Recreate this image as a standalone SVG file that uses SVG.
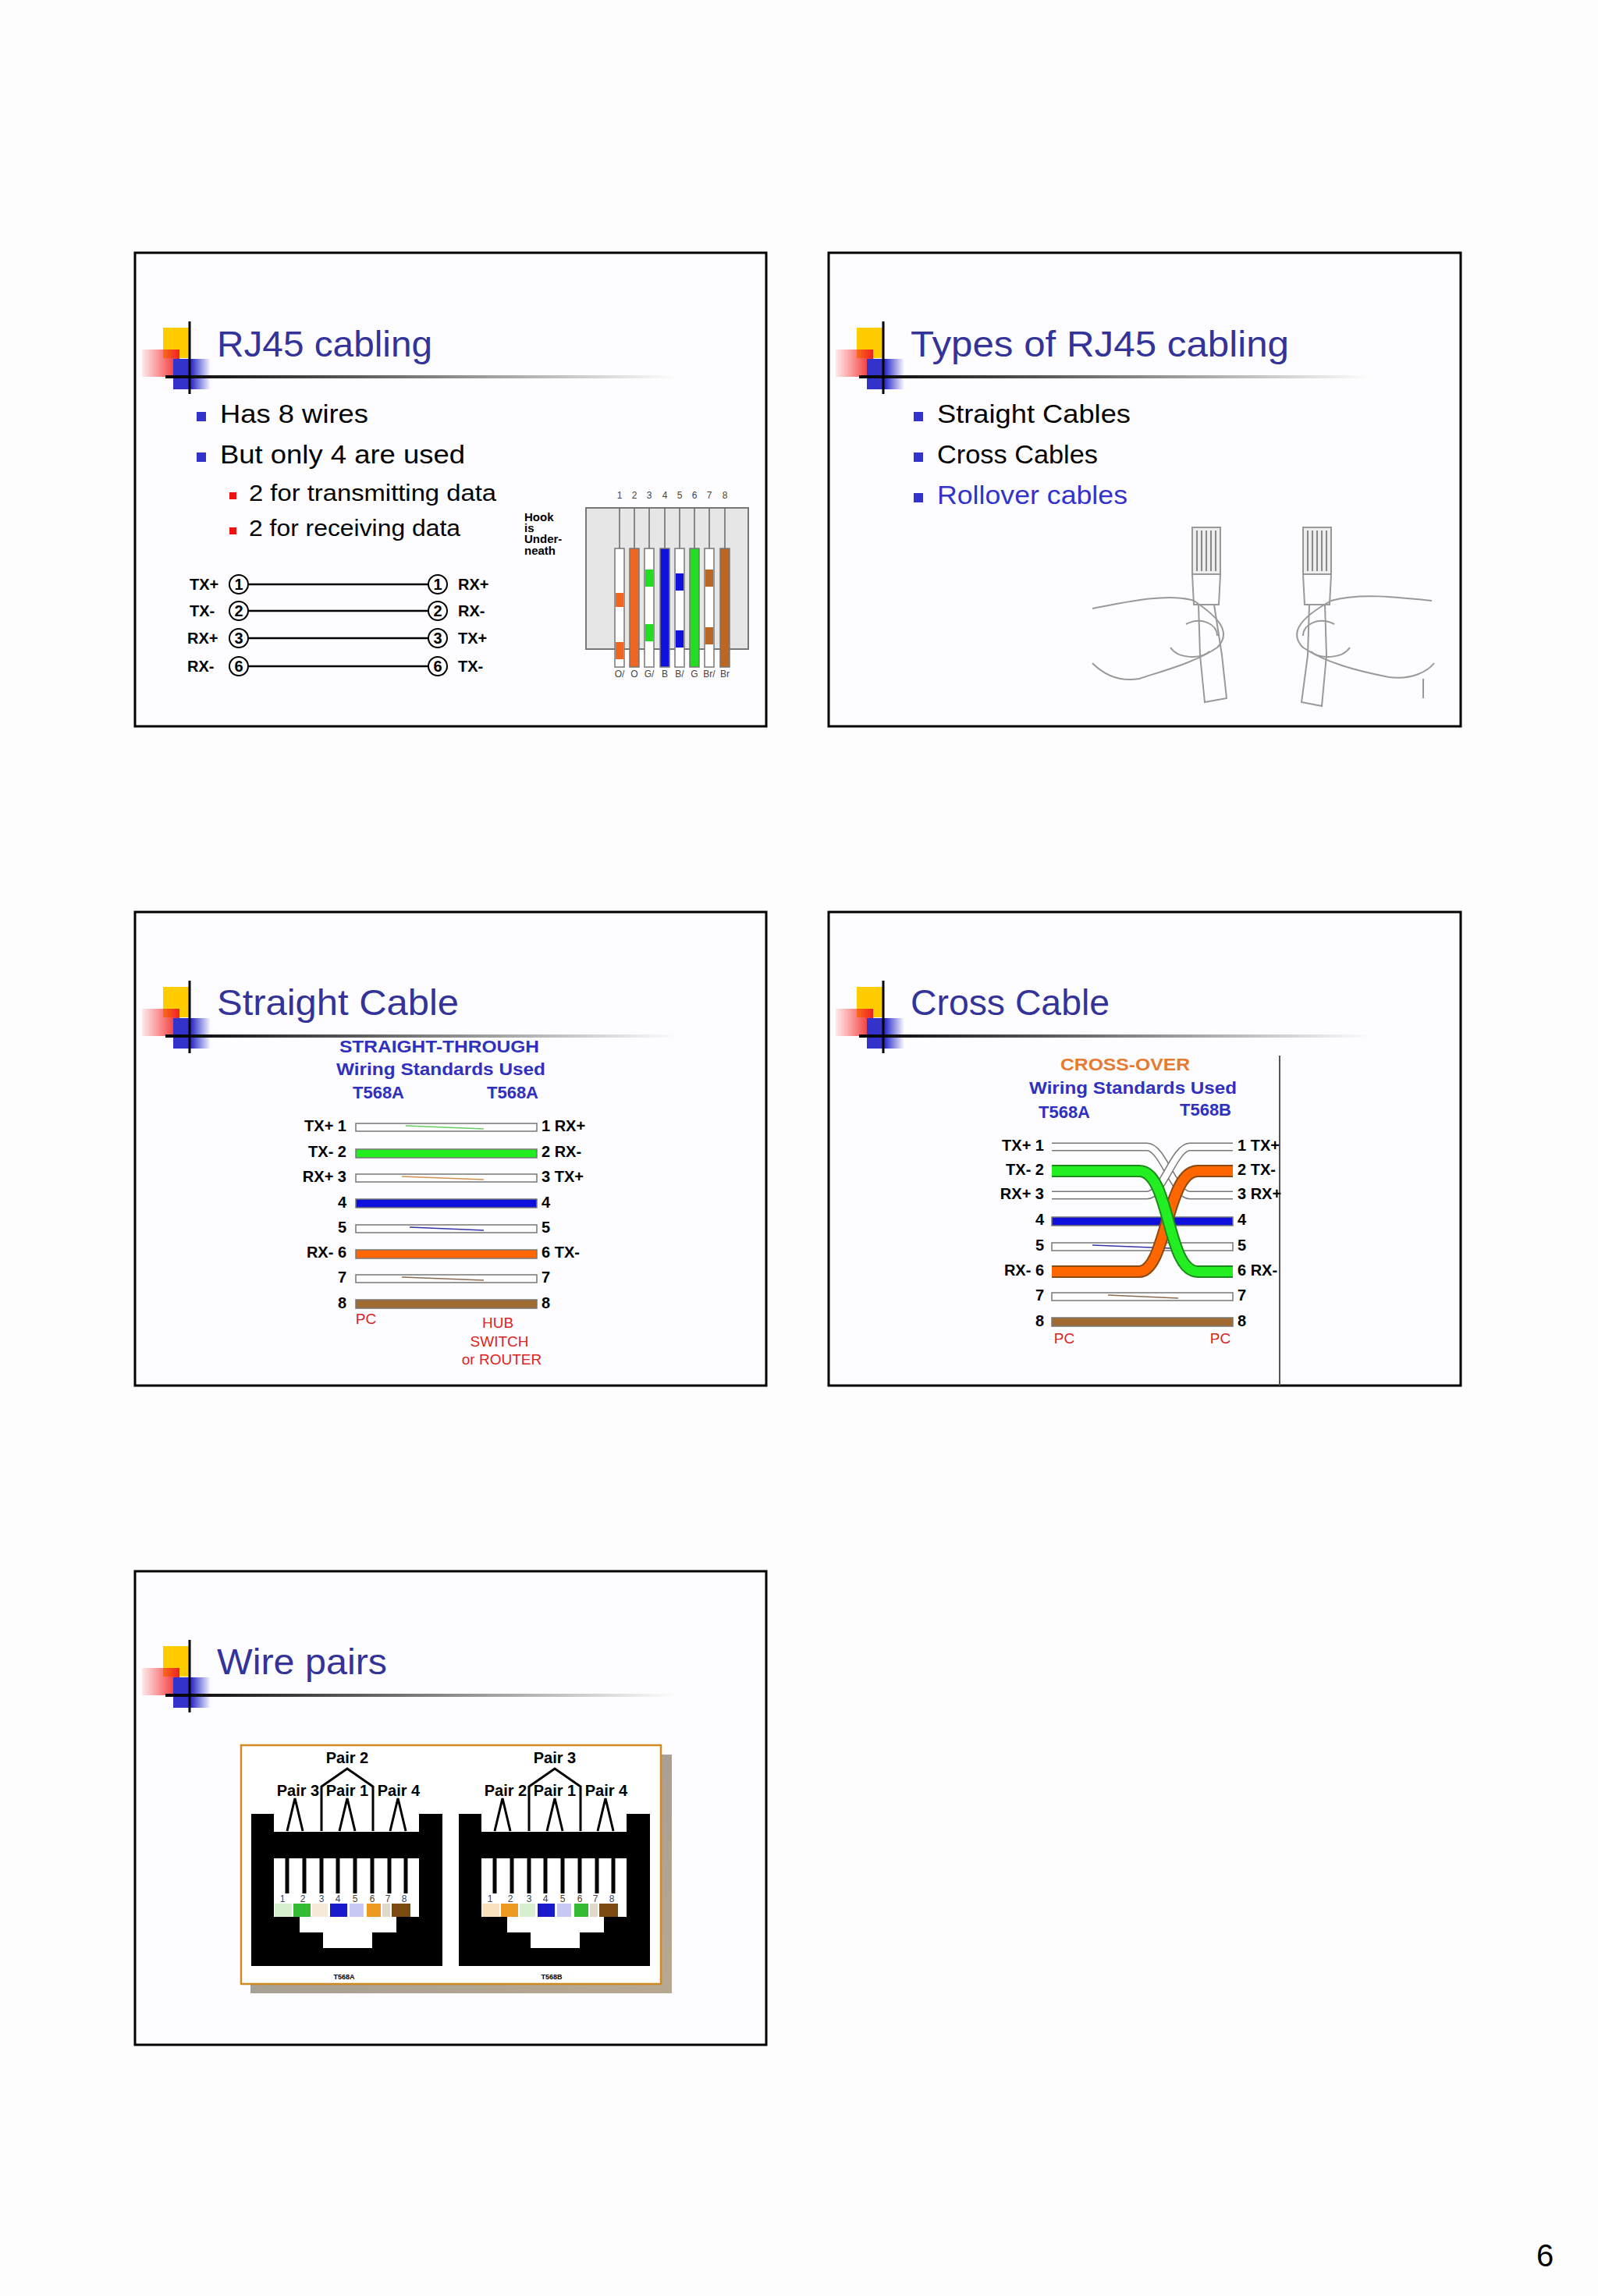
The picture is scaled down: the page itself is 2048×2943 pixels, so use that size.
<svg xmlns="http://www.w3.org/2000/svg" width="2048" height="2943" viewBox="0 0 2048 2943">
<style>
.slide{fill:#fdfdff;stroke:#000;stroke-width:3}
.title{font-family:"Liberation Sans",Arial,sans-serif;font-size:46px;fill:#333399}
.b1{font-family:"Liberation Sans",Arial,sans-serif;font-size:34px;fill:#000}
.b2{font-family:"Liberation Sans",Arial,sans-serif;font-size:29px;fill:#000}
.sm{font-family:"Liberation Sans",Arial,sans-serif;font-weight:bold;font-size:20px;fill:#000}
.xs{font-family:"Liberation Sans",Arial,sans-serif;font-weight:bold;font-size:15px;fill:#000}
.tiny{font-family:"Liberation Sans",Arial,sans-serif;font-size:12px;fill:#444}
.blu{font-family:"Liberation Sans",Arial,sans-serif;font-weight:bold;font-size:22px;fill:#3030c0}
.red{font-family:"Liberation Sans",Arial,sans-serif;font-size:19px;fill:#dd2222}
.wire{stroke:#777;stroke-width:1.5}
.circ{fill:#fff;stroke:#000;stroke-width:2}
.ln{stroke:#000;stroke-width:2.5}
.pk{fill:none;stroke:#000;stroke-width:3}
</style>
<defs>
<linearGradient id="hl" x1="0" x2="1" y1="0" y2="0"><stop offset="0" stop-color="#000"/><stop offset="0.35" stop-color="#555"/><stop offset="1" stop-color="#fff"/></linearGradient>
<linearGradient id="rg" x1="0" x2="1" y1="0" y2="0"><stop offset="0" stop-color="#ff3333" stop-opacity="0.1"/><stop offset="1" stop-color="#ee2222"/></linearGradient>
<linearGradient id="bg" x1="0" x2="1" y1="0" y2="0"><stop offset="0" stop-color="#3333cc"/><stop offset="0.5" stop-color="#3333cc"/><stop offset="1" stop-color="#3333cc" stop-opacity="0"/></linearGradient>
<linearGradient id="sh" x1="0" x2="1" y1="0" y2="1"><stop offset="0" stop-color="#999"/><stop offset="1" stop-color="#b8a890"/></linearGradient>
<g id="hdr">
<rect x="209" y="420" width="35" height="39" fill="#ffcc00"/>
<rect x="182" y="448" width="48" height="35" fill="url(#rg)"/>
<rect x="222" y="460" width="48" height="39" fill="url(#bg)"/>
<rect x="212" y="481" width="658" height="4" fill="url(#hl)"/>
<line x1="243" y1="412" x2="243" y2="505" stroke="#000" stroke-width="3"/>
</g>
</defs>
<rect width="2048" height="2943" fill="#fdfdfe"/>

<g id="slide1">
<rect class="slide" x="173" y="324" width="809" height="607"/>
<use href="#hdr"/>
<text class="title" x="278" y="457" textLength="276" lengthAdjust="spacingAndGlyphs">RJ45 cabling</text>
<rect x="252" y="528" width="12" height="12" fill="#3333cc"/>
<text class="b1" x="282" y="542" textLength="190" lengthAdjust="spacingAndGlyphs">Has 8 wires</text>
<rect x="252" y="580" width="12" height="12" fill="#3333cc"/>
<text class="b1" x="282" y="594" textLength="314" lengthAdjust="spacingAndGlyphs">But only 4 are used</text>
<rect x="294" y="631" width="9" height="9" fill="#ee1111"/>
<text class="b2" x="319" y="642" textLength="317" lengthAdjust="spacingAndGlyphs">2 for transmitting data</text>
<rect x="294" y="676" width="9" height="9" fill="#ee1111"/>
<text class="b2" x="319" y="687" textLength="271" lengthAdjust="spacingAndGlyphs">2 for receiving data</text>
<g id="txrx">
<g class="sm">
<text x="243" y="756">TX+</text><text x="243" y="790">TX-</text><text x="240" y="825">RX+</text><text x="240" y="861">RX-</text>
<text x="587" y="756">RX+</text><text x="587" y="790">RX-</text><text x="587" y="825">TX+</text><text x="587" y="861">TX-</text>
</g>
<line class="ln" x1="318" y1="749" x2="549" y2="749"/><line class="ln" x1="318" y1="783" x2="549" y2="783"/>
<line class="ln" x1="318" y1="818" x2="549" y2="818"/><line class="ln" x1="318" y1="854" x2="549" y2="854"/>
<g>
<circle class="circ" cx="306" cy="749" r="12"/><circle class="circ" cx="306" cy="783" r="12"/><circle class="circ" cx="306" cy="818" r="12"/><circle class="circ" cx="306" cy="854" r="12"/>
<circle class="circ" cx="561" cy="749" r="12"/><circle class="circ" cx="561" cy="783" r="12"/><circle class="circ" cx="561" cy="818" r="12"/><circle class="circ" cx="561" cy="854" r="12"/>
</g>
<g class="sm" text-anchor="middle" font-size="18">
<text x="306" y="756">1</text><text x="306" y="790">2</text><text x="306" y="825">3</text><text x="306" y="861">6</text>
<text x="561" y="756">1</text><text x="561" y="790">2</text><text x="561" y="825">3</text><text x="561" y="861">6</text>
</g>
</g>
<g id="plug">
<text class="xs" x="672" y="668">Hook</text><text class="xs" x="672" y="682">is</text><text class="xs" x="672" y="696">Under-</text><text class="xs" x="672" y="711">neath</text>
<rect x="751" y="651" width="208" height="181" fill="#e6e6e6" stroke="#777" stroke-width="2"/>
<g class="tiny" text-anchor="middle">
<text x="794" y="639">1</text><text x="813" y="639">2</text><text x="832" y="639">3</text><text x="852" y="639">4</text><text x="871" y="639">5</text><text x="890" y="639">6</text><text x="909" y="639">7</text><text x="929" y="639">8</text>
</g>
<g stroke="#666" stroke-width="1.5">
<line x1="794" y1="651" x2="794" y2="703"/><line x1="813" y1="651" x2="813" y2="703"/><line x1="832" y1="651" x2="832" y2="703"/><line x1="852" y1="651" x2="852" y2="703"/><line x1="871" y1="651" x2="871" y2="703"/><line x1="890" y1="651" x2="890" y2="703"/><line x1="909" y1="651" x2="909" y2="703"/><line x1="929" y1="651" x2="929" y2="703"/>
</g>
<g class="wire">
<rect x="788" y="703" width="12" height="152" fill="#fff"/><rect x="807" y="703" width="12" height="152" fill="#ee6622"/>
<rect x="826" y="703" width="12" height="152" fill="#fff"/><rect x="846" y="703" width="12" height="152" fill="#1111dd"/>
<rect x="865" y="703" width="12" height="152" fill="#fff"/><rect x="884" y="703" width="12" height="152" fill="#22dd22"/>
<rect x="903" y="703" width="12" height="152" fill="#fff"/><rect x="923" y="703" width="12" height="152" fill="#bb6622"/>
</g>
<g stroke-width="10">
<line x1="794" y1="760" x2="794" y2="778" stroke="#ee6622"/><line x1="794" y1="823" x2="794" y2="845" stroke="#ee6622"/>
<line x1="832" y1="730" x2="832" y2="752" stroke="#22dd22"/><line x1="832" y1="800" x2="832" y2="822" stroke="#22dd22"/>
<line x1="871" y1="735" x2="871" y2="757" stroke="#1111dd"/><line x1="871" y1="808" x2="871" y2="830" stroke="#1111dd"/>
<line x1="909" y1="730" x2="909" y2="752" stroke="#bb6622"/><line x1="909" y1="804" x2="909" y2="826" stroke="#bb6622"/>
</g>
<g class="tiny" text-anchor="middle" font-size="11">
<text x="794" y="868">O/</text><text x="813" y="868">O</text><text x="832" y="868">G/</text><text x="852" y="868">B</text><text x="871" y="868">B/</text><text x="890" y="868">G</text><text x="909" y="868">Br/</text><text x="929" y="868">Br</text>
</g>
</g>
</g>

<g id="slide2">
<rect class="slide" x="1062" y="324" width="810" height="607"/>
<use href="#hdr" transform="translate(889,0)"/>
<text class="title" x="1167" y="457" textLength="485" lengthAdjust="spacingAndGlyphs">Types of RJ45 cabling</text>
<rect x="1171" y="528" width="12" height="12" fill="#3333cc"/>
<text class="b1" x="1201" y="542" textLength="248" lengthAdjust="spacingAndGlyphs">Straight Cables</text>
<rect x="1171" y="580" width="12" height="12" fill="#3333cc"/>
<text class="b1" x="1201" y="594" textLength="206" lengthAdjust="spacingAndGlyphs">Cross Cables</text>
<rect x="1171" y="632" width="12" height="12" fill="#3333cc"/>
<text class="b1" x="1201" y="646" textLength="244" lengthAdjust="spacingAndGlyphs" style="fill:#3333cc">Rollover cables</text>
<g id="hands" fill="none" stroke="#999" stroke-width="2">
<rect x="1528" y="676" width="36" height="60" fill="#eee"/>
<g stroke="#666" stroke-width="1.5"><line x1="1534" y1="680" x2="1534" y2="732"/><line x1="1540" y1="680" x2="1540" y2="732"/><line x1="1546" y1="680" x2="1546" y2="732"/><line x1="1552" y1="680" x2="1552" y2="732"/><line x1="1558" y1="680" x2="1558" y2="732"/></g>
<path d="M1528,736 L1530,775 L1562,775 L1564,736"/>
<path d="M1536,775 L1538,840 L1544,900 L1572,895 L1566,840 L1556,775"/>
<path d="M1400,780 C1450,770 1500,760 1530,770 C1560,790 1580,810 1560,830 C1530,850 1490,860 1460,870 C1430,875 1410,860 1400,850"/>
<path d="M1520,800 C1540,790 1560,800 1560,815 M1500,830 C1510,845 1540,845 1550,835"/>
<rect x="1670" y="676" width="36" height="60" fill="#eee"/>
<g stroke="#666" stroke-width="1.5"><line x1="1676" y1="680" x2="1676" y2="732"/><line x1="1682" y1="680" x2="1682" y2="732"/><line x1="1688" y1="680" x2="1688" y2="732"/><line x1="1694" y1="680" x2="1694" y2="732"/><line x1="1700" y1="680" x2="1700" y2="732"/></g>
<path d="M1670,736 L1672,775 L1704,775 L1706,736"/>
<path d="M1678,775 L1676,840 L1668,900 L1694,905 L1700,840 L1698,775"/>
<path d="M1835,770 C1790,765 1740,760 1706,770 C1670,790 1650,810 1670,830 C1700,850 1740,860 1780,868 C1810,872 1830,860 1838,850"/>
<path d="M1710,800 C1690,790 1670,800 1670,815 M1730,830 C1720,845 1690,845 1680,835"/>
<line x1="1824" y1="870" x2="1824" y2="895"/>
</g>
</g>

<g id="slide3">
<rect class="slide" x="173" y="1169" width="809" height="607"/>
<use href="#hdr" transform="translate(0,845)"/>
<text class="title" x="278" y="1301" textLength="310" lengthAdjust="spacingAndGlyphs">Straight Cable</text>
<g class="blu" text-anchor="middle">
<text x="563" y="1349" textLength="256" lengthAdjust="spacingAndGlyphs">STRAIGHT-THROUGH</text>
<text x="565" y="1378" textLength="268" lengthAdjust="spacingAndGlyphs">Wiring Standards Used</text>
<text x="485" y="1408">T568A</text><text x="657" y="1408">T568A</text>
</g>
<g id="swires" class="wire">
<rect x="456" y="1440" width="232" height="10" fill="#fff"/>
<rect x="456" y="1473" width="232" height="11" fill="#22ee22"/>
<rect x="456" y="1505" width="232" height="10" fill="#fff"/>
<rect x="456" y="1537" width="232" height="11" fill="#1010dd"/>
<rect x="456" y="1570" width="232" height="10" fill="#fff"/>
<rect x="456" y="1602" width="232" height="11" fill="#ff6600"/>
<rect x="456" y="1634" width="232" height="10" fill="#fff"/>
<rect x="456" y="1666" width="232" height="11" fill="#a06a30"/>
<path d="M520,1443 L620,1447" stroke="#66cc66"/><path d="M515,1508 L620,1512" stroke="#d09050"/>
<path d="M525,1573 L620,1577" stroke="#3333aa"/><path d="M515,1637 L620,1641" stroke="#8a6a50"/>
</g>
<g class="sm" font-size="14" text-anchor="end">
<text x="444" y="1450">TX+ 1</text><text x="444" y="1483">TX- 2</text><text x="444" y="1515">RX+ 3</text><text x="444" y="1548">4</text><text x="444" y="1580">5</text><text x="444" y="1612">RX- 6</text><text x="444" y="1644">7</text><text x="444" y="1677">8</text>
</g>
<g class="sm" font-size="14">
<text x="694" y="1450">1 RX+</text><text x="694" y="1483">2 RX-</text><text x="694" y="1515">3 TX+</text><text x="694" y="1548">4</text><text x="694" y="1580">5</text><text x="694" y="1612">6 TX-</text><text x="694" y="1644">7</text><text x="694" y="1677">8</text>
</g>
<g class="red" text-anchor="middle">
<text x="469" y="1697">PC</text><text x="638" y="1702">HUB</text><text x="640" y="1726">SWITCH</text><text x="643" y="1749">or ROUTER</text>
</g>
</g>

<g id="slide4">
<rect class="slide" x="1062" y="1169" width="810" height="607"/>
<use href="#hdr" transform="translate(889,845)"/>
<text class="title" x="1167" y="1301" textLength="255" lengthAdjust="spacingAndGlyphs">Cross Cable</text>
<line x1="1640" y1="1353" x2="1640" y2="1776" stroke="#555" stroke-width="2"/>
<text x="1442" y="1372" text-anchor="middle" class="blu" style="fill:#e87a30" textLength="166" lengthAdjust="spacingAndGlyphs">CROSS-OVER</text>
<g class="blu" text-anchor="middle">
<text x="1452" y="1402" textLength="266" lengthAdjust="spacingAndGlyphs">Wiring Standards Used</text>
<text x="1364" y="1433">T568A</text><text x="1545" y="1430">T568B</text>
</g>
<g id="xwires" class="wire">
<rect x="1348" y="1560" width="232" height="11" fill="#1010dd"/>
<rect x="1348" y="1593" width="232" height="10" fill="#fff"/>
<rect x="1348" y="1657" width="232" height="10" fill="#fff"/>
<rect x="1348" y="1689" width="232" height="11" fill="#a06a30"/>
<path d="M1400,1596 L1500,1600" stroke="#3333aa"/><path d="M1420,1660 L1510,1664" stroke="#8a6a50"/>
<path d="M1348,1470 H1470 C1490,1470 1505,1532 1525,1532 H1580" fill="none" stroke="#777" stroke-width="11"/>
<path d="M1348,1470 H1470 C1490,1470 1505,1532 1525,1532 H1580" fill="none" stroke="#fff" stroke-width="8"/>
<path d="M1348,1532 H1470 C1490,1532 1505,1470 1525,1470 H1580" fill="none" stroke="#777" stroke-width="11"/>
<path d="M1348,1532 H1470 C1490,1532 1505,1470 1525,1470 H1580" fill="none" stroke="#fff" stroke-width="8"/>
<path d="M1348,1630 H1460 C1495,1630 1495,1501 1535,1501 H1580" fill="none" stroke="#8a4a10" stroke-width="16"/>
<path d="M1348,1630 H1460 C1495,1630 1495,1501 1535,1501 H1580" fill="none" stroke="#ff6600" stroke-width="12"/>
<path d="M1348,1501 H1460 C1500,1501 1495,1630 1535,1630 H1580" fill="none" stroke="#1a8a1a" stroke-width="16"/>
<path d="M1348,1501 H1460 C1500,1501 1495,1630 1535,1630 H1580" fill="none" stroke="#22ee22" stroke-width="12"/>
</g>
<g class="sm" font-size="14" text-anchor="end">
<text x="1338" y="1475">TX+ 1</text><text x="1338" y="1506">TX- 2</text><text x="1338" y="1537">RX+ 3</text><text x="1338" y="1570">4</text><text x="1338" y="1603">5</text><text x="1338" y="1635">RX- 6</text><text x="1338" y="1667">7</text><text x="1338" y="1700">8</text>
</g>
<g class="sm" font-size="14">
<text x="1586" y="1475">1 TX+</text><text x="1586" y="1506">2 TX-</text><text x="1586" y="1537">3 RX+</text><text x="1586" y="1570">4</text><text x="1586" y="1603">5</text><text x="1586" y="1635">6 RX-</text><text x="1586" y="1667">7</text><text x="1586" y="1700">8</text>
</g>
<g class="red" text-anchor="middle"><text x="1364" y="1722">PC</text><text x="1564" y="1722">PC</text></g>
</g>

<g id="slide5">
<rect class="slide" x="173" y="2014" width="809" height="607"/>
<use href="#hdr" transform="translate(0,1690)"/>
<text class="title" x="278" y="2146" textLength="218" lengthAdjust="spacingAndGlyphs">Wire pairs</text>
<rect x="321" y="2249" width="540" height="306" fill="url(#sh)"/>
<rect x="309" y="2237" width="538" height="306" fill="#fff" stroke="#d08a20" stroke-width="2.5"/>
<g id="jackA">
<path d="M322,2325 H351 V2348 H537 V2325 H567 V2520 H322 Z" fill="#000"/>
<path d="M351,2382 H537 V2457 H508 V2477 H477 V2497 H414 V2477 H384 V2457 H351 Z" fill="#fff"/>
<g stroke="#000" stroke-width="5">
<line x1="368" y1="2382" x2="368" y2="2427"/><line x1="390" y1="2382" x2="390" y2="2427"/><line x1="412" y1="2382" x2="412" y2="2427"/><line x1="433" y1="2382" x2="433" y2="2427"/><line x1="455" y1="2382" x2="455" y2="2427"/><line x1="477" y1="2382" x2="477" y2="2427"/><line x1="499" y1="2382" x2="499" y2="2427"/><line x1="520" y1="2382" x2="520" y2="2427"/>
</g>
<g class="tiny" font-size="13" fill="#000" text-anchor="middle">
<text x="362" y="2438">1</text><text x="388" y="2438">2</text><text x="412" y="2438">3</text><text x="433" y="2438">4</text><text x="455" y="2438">5</text><text x="477" y="2438">6</text><text x="497" y="2438">7</text><text x="518" y="2438">8</text>
</g>
<rect x="352" y="2440" width="22" height="17" fill="#d8f0d0"/><rect x="376" y="2440" width="22" height="17" fill="#33bb33"/>
<rect x="400" y="2440" width="20" height="17" fill="#f8ead8"/><rect x="423" y="2440" width="22" height="17" fill="#1a1acc"/>
<rect x="448" y="2440" width="18" height="17" fill="#c8c8f4"/><rect x="470" y="2440" width="18" height="17" fill="#ee9922"/>
<rect x="490" y="2440" width="10" height="17" fill="#e0d8c8"/><rect x="502" y="2440" width="24" height="17" fill="#7a4a10"/>
<g class="pk">
<path d="M368,2347 L378,2305 L388,2347"/><path d="M435,2347 L445,2305 L455,2347"/><path d="M500,2347 L510,2305 L520,2347"/>
<path d="M412,2347 V2290 L445,2267 L478,2290 V2347"/>
</g>
</g>
<g class="sm" font-size="13" text-anchor="middle">
<text x="445" y="2260">Pair 2</text><text x="382" y="2302">Pair 3</text><text x="445" y="2302">Pair 1</text><text x="511" y="2302">Pair 4</text>
<text x="441" y="2537" font-size="9">T568A</text>
</g>
<g transform="translate(266,0)">
<path d="M322,2325 H351 V2348 H537 V2325 H567 V2520 H322 Z" fill="#000"/>
<path d="M351,2382 H537 V2457 H508 V2477 H477 V2497 H414 V2477 H384 V2457 H351 Z" fill="#fff"/>
<g stroke="#000" stroke-width="5">
<line x1="368" y1="2382" x2="368" y2="2427"/><line x1="390" y1="2382" x2="390" y2="2427"/><line x1="412" y1="2382" x2="412" y2="2427"/><line x1="433" y1="2382" x2="433" y2="2427"/><line x1="455" y1="2382" x2="455" y2="2427"/><line x1="477" y1="2382" x2="477" y2="2427"/><line x1="499" y1="2382" x2="499" y2="2427"/><line x1="520" y1="2382" x2="520" y2="2427"/>
</g>
<g class="tiny" font-size="13" fill="#000" text-anchor="middle">
<text x="362" y="2438">1</text><text x="388" y="2438">2</text><text x="412" y="2438">3</text><text x="433" y="2438">4</text><text x="455" y="2438">5</text><text x="477" y="2438">6</text><text x="497" y="2438">7</text><text x="518" y="2438">8</text>
</g>
<rect x="352" y="2440" width="22" height="17" fill="#f8e0c0"/><rect x="376" y="2440" width="22" height="17" fill="#ee9922"/>
<rect x="400" y="2440" width="20" height="17" fill="#d8f0d0"/><rect x="423" y="2440" width="22" height="17" fill="#1a1acc"/>
<rect x="448" y="2440" width="18" height="17" fill="#c8c8f4"/><rect x="470" y="2440" width="18" height="17" fill="#33bb33"/>
<rect x="490" y="2440" width="10" height="17" fill="#e0d8c8"/><rect x="502" y="2440" width="24" height="17" fill="#7a4a10"/>
<g class="pk">
<path d="M368,2347 L378,2305 L388,2347"/><path d="M435,2347 L445,2305 L455,2347"/><path d="M500,2347 L510,2305 L520,2347"/>
<path d="M412,2347 V2290 L445,2267 L478,2290 V2347"/>
</g>
<g class="sm" font-size="13" text-anchor="middle">
<text x="445" y="2260">Pair 3</text><text x="382" y="2302">Pair 2</text><text x="445" y="2302">Pair 1</text><text x="511" y="2302">Pair 4</text>
<text x="441" y="2537" font-size="9">T568B</text>
</g>
</g>
</g>

<text x="1969" y="2905" font-family="Liberation Sans, Arial, sans-serif" font-size="40" fill="#000">6</text>
</svg>
